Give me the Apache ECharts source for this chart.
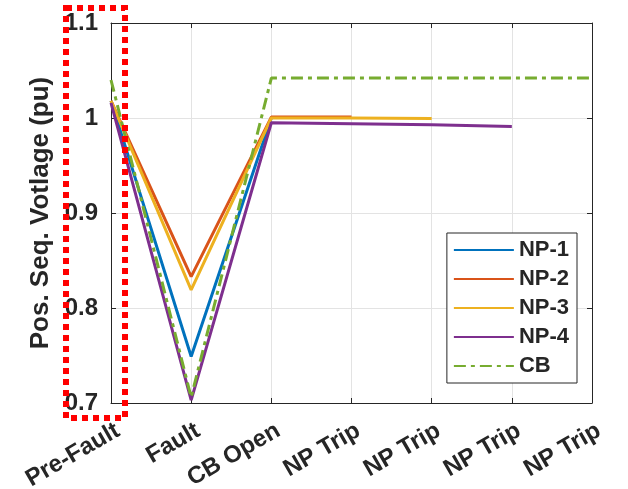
<!DOCTYPE html>
<html>
<head>
<meta charset="utf-8">
<script src="https://cdn.jsdelivr.net/npm/echarts@6/dist/echarts.min.js"></script>
<style>
  html, body { margin: 0; padding: 0; background: #fff; }
  #chart { width: 628px; height: 489px; }
</style>
</head>
<body>
<div id="chart"></div>
<script>
// 故障过程各阶段的正序电压
var categories = ['Pre-Fault', 'Fault', 'CB Open', 'NP Trip', 'NP Trip', 'NP Trip', 'NP Trip'];
var yTicks = [0.7, 0.8, 0.9, 1.0, 1.1];
var np1 = [1.018, 0.749, 1.000];
var np2 = [1.018, 0.833, 1.001, 1.001];
var np3 = [1.018, 0.819, 1.000, 1.000, 0.9995];
var np4 = [1.016, 0.703, 0.995, 0.994, 0.993, 0.991];
var cb = [1.040, 0.706, 1.042, 1.042, 1.042, 1.042, 1.042];

var txt = '#262626';
var font = '"Liberation Sans", Arial, sans-serif';

var myChart = echarts.init(document.getElementById('chart'));

function lineSeries(name, data, color, type) {
    return {
        name: name,
        type: 'line',
        data: data,
        symbol: 'none',
        animation: false,
        color: color,
        lineStyle: { color: color, width: 3, type: type || 'solid' }
    };
}

var option = {
    animation: false,
    grid: { left: 111, right: 36, top: 23, bottom: 86, outerBoundsMode: 'none', containLabel: false },
    legend: {
        orient: 'vertical',
        right: 51,
        top: 233,
        itemWidth: 60,
        itemHeight: 10,
        itemGap: 7,
        padding: [6, 8, 6, 6],
        backgroundColor: '#fff',
        borderColor: txt,
        borderWidth: 1,
        borderRadius: 0,
        itemStyle: { opacity: 0 },
        textStyle: { color: txt, fontSize: 22, fontWeight: 'bold', fontFamily: font },
        data: ['NP-1', 'NP-2', 'NP-3', 'NP-4', 'CB']
    },
    xAxis: [{
        type: 'category',
        data: categories,
        boundaryGap: false,
        axisLine: { lineStyle: { color: txt, width: 1 } },
        axisTick: { inside: true, length: 5, lineStyle: { color: txt } },
        axisLabel: {
            rotate: 30, color: txt, fontSize: 24, fontWeight: 'bold', fontFamily: font,
            margin: 30, padding: [0, -8, 0, 0]
        },
        splitLine: { show: true, lineStyle: { color: '#e3e3e3', width: 1 } }
    }, {
        type: 'category',
        position: 'top',
        data: categories,
        boundaryGap: false,
        axisLine: { lineStyle: { color: txt, width: 1 } },
        axisTick: { inside: true, length: 5, lineStyle: { color: txt } },
        axisLabel: { show: false }
    }],
    yAxis: [{
        type: 'value',
        min: 0.7,
        max: 1.1,
        interval: 0.1,
        name: 'Pos. Seq. Votlage (pu)',
        nameLocation: 'middle',
        nameGap: 36,
        nameTextStyle: { color: txt, fontSize: 26, fontWeight: 'bold', fontFamily: font },
        axisLine: { show: true, lineStyle: { color: txt, width: 1 } },
        axisTick: { show: true, inside: true, length: 5, lineStyle: { color: txt } },
        axisLabel: {
            color: txt, fontSize: 24, fontWeight: 'bold', fontFamily: font, margin: 13,
            formatter: function (v) {
                var r = Math.round(v * 10) / 10;
                return yTicks.indexOf(r) >= 0 ? String(r) : '';
            }
        },
        splitLine: { show: true, lineStyle: { color: '#e3e3e3', width: 1 } }
    }, {
        type: 'value',
        position: 'right',
        min: 0.7,
        max: 1.1,
        interval: 0.1,
        axisLine: { show: true, lineStyle: { color: txt, width: 1 } },
        axisTick: { show: true, inside: true, length: 5, lineStyle: { color: txt } },
        axisLabel: { show: false },
        splitLine: { show: false }
    }],
    series: [
        lineSeries('NP-1', np1, '#0072BD'),
        lineSeries('NP-2', np2, '#D95319'),
        lineSeries('NP-3', np3, '#EDB120'),
        lineSeries('NP-4', np4, '#7E2F8E'),
        lineSeries('CB', cb, '#77AC30', [12, 5, 4, 5])
    ],
    graphic: [{
        type: 'rect',
        z: 100,
        shape: { x: 66, y: 8, width: 59, height: 410 },
        style: { fill: 'none', stroke: '#ff0000', lineWidth: 6, lineDash: [6, 5] }
    }]
};

myChart.setOption(option);
</script>
</body>
</html>
